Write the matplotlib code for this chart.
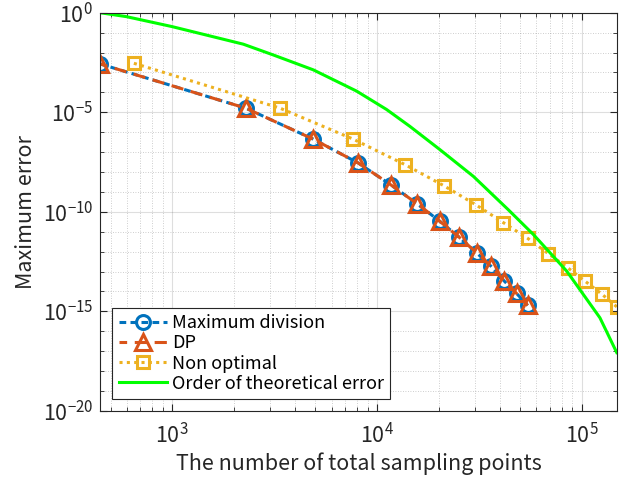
import matplotlib
matplotlib.use("Agg")
import matplotlib.pyplot as plt
from matplotlib.ticker import LogLocator, NullFormatter
import numpy as np

FONT = ["Noto Sans CJK JP", "DejaVu Sans"]
plt.rcParams['font.family'] = FONT
plt.rcParams['mathtext.fontset'] = 'custom'
plt.rcParams['mathtext.rm'] = 'Noto Sans CJK JP'
plt.rcParams['mathtext.it'] = 'Noto Sans CJK JP'
plt.rcParams['mathtext.bf'] = 'Noto Sans CJK JP'

# ---- data ----
n_maxdiv = [444, 2284, 4885, 8110, 11670, 15740, 20300, 25240, 30690, 36050, 41880, 48100, 54450]
log_err_maxdiv = [-2.57, -4.79, -6.35, -7.55, -8.64, -9.60, -10.48, -11.28, -12.06, -12.73, -13.48, -14.10, -14.70]

n_dp = [444, 2284, 4885, 8110, 11670, 15740, 20300, 25240, 30690, 36050, 41880, 48100, 54450]
log_err_dp = [-2.57, -4.79, -6.35, -7.55, -8.64, -9.60, -10.48, -11.28, -12.06, -12.73, -13.48, -14.10, -14.70]

n_nonopt = [650, 3357, 7660, 13710, 21230, 30340, 41400, 54450, 68690, 85440, 103800, 125300, 148300]
log_err_nonopt = [-2.54, -4.79, -6.35, -7.63, -8.69, -9.64, -10.54, -11.33, -12.10, -12.81, -13.48, -14.13, -14.77]

n_theory = [444, 599, 1000, 2223, 3112, 4887, 7962, 11140, 14490, 20320, 29580, 43750, 58080, 84530, 122700, 148300]
log_err_theory = [0.0, -0.20, -0.70, -1.58, -2.12, -2.87, -3.94, -4.86, -5.71, -6.88, -8.22, -9.89, -11.14, -12.98, -15.32, -17.07]

labels = ["Maximum division", "DP", "Non optimal", "Order of theoretical error"]

c_blue = "#0072BD"
c_orange = "#D95319"
c_yellow = "#EDB120"
c_green = "#00FF00"
c_axis = "#262626"

fig = plt.figure(figsize=(6.30, 4.79), dpi=100)
ax = fig.add_axes([0.1587, 0.142, 0.8203, 0.8315])

ax.plot(n_maxdiv, 10.0 ** np.array(log_err_maxdiv), color=c_blue, lw=2.2,
        linestyle=(0, (2.2, 1.4)), marker='o', ms=10, mfc='none', mew=2.2,
        label=labels[0])
ax.plot(n_dp, 10.0 ** np.array(log_err_dp), color=c_orange, lw=2.2,
        linestyle=(1.5, (4.0, 2.5)), marker='^', ms=11, mfc='none', mew=2.2,
        label=labels[1])
ax.plot(n_nonopt, 10.0 ** np.array(log_err_nonopt), color=c_yellow, lw=2.2,
        linestyle=(0, (1.0, 1.4)), marker='s', ms=8, mfc='none', mew=2.2,
        label=labels[2])
ax.plot(n_theory, 10.0 ** np.array(log_err_theory), color=c_green, lw=2.2,
        label=labels[3])

ax.set_xscale('log')
ax.set_yscale('log')
ax.set_xlim(444, 1.483e5)
ax.set_ylim(1e-20, 1)

ax.set_yticks([1e-20, 1e-15, 1e-10, 1e-5, 1e0])
ax.set_yticklabels([r'$10^{-20}$', r'$10^{-15}$', r'$10^{-10}$', r'$10^{-5}$', r'$10^{0}$'])
ax.set_yticks([10.0 ** k for k in range(-20, 1) if k % 5 != 0], minor=True)
ax.yaxis.set_minor_formatter(NullFormatter())

ax.set_xticks([1e3, 1e4, 1e5])
ax.set_xticklabels([r'$10^{3}$', r'$10^{4}$', r'$10^{5}$'])
ax.xaxis.set_minor_locator(LogLocator(base=10, subs=np.arange(2, 10), numticks=20))
ax.xaxis.set_minor_formatter(NullFormatter())

ax.tick_params(which='both', direction='in', top=True, right=True, colors=c_axis,
               labelcolor=c_axis)
ax.tick_params(which='major', length=5, width=0.8, labelsize=15.5)
ax.tick_params(axis='x', which='major', pad=9)
ax.tick_params(axis='y', which='major', pad=5)
ax.tick_params(which='minor', length=3, width=0.6)

ax.grid(True, which='major', color=c_axis, alpha=0.15, lw=0.8, linestyle='-')
ax.grid(True, which='minor', color=c_axis, alpha=0.3, lw=0.6, linestyle=(0, (1, 2)))
ax.set_axisbelow(True)
for s in ax.spines.values():
    s.set_color(c_axis)
    s.set_linewidth(0.8)

ax.set_xlabel("The number of total sampling points", fontsize=15.5, color=c_axis, labelpad=3)
ax.set_ylabel("Maximum error", fontsize=15.5, color=c_axis, labelpad=4)

leg = ax.legend(loc='lower left', bbox_to_anchor=(0.024, 0.03), fontsize=13,
                handlelength=2.7, handletextpad=0.25, borderpad=0.35, labelspacing=0.12,
                numpoints=1, fancybox=False, framealpha=1, edgecolor=c_axis,
                borderaxespad=0)
leg.get_frame().set_linewidth(0.8)

fig.savefig("out.png", dpi=100)
